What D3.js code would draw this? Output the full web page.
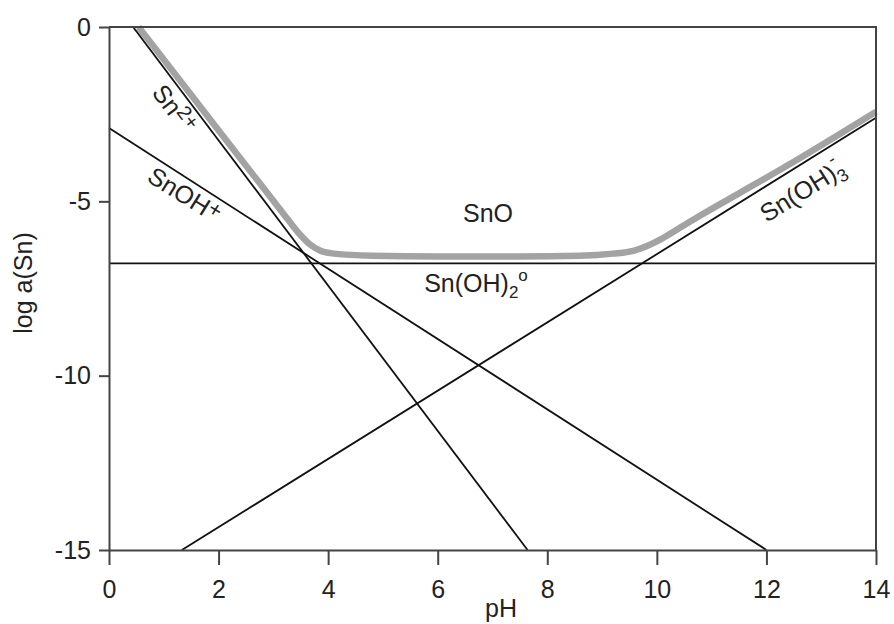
<!DOCTYPE html>
<html>
<head>
<meta charset="utf-8">
<script src="https://cdn.jsdelivr.net/npm/d3@7"></script>
<style>
  body { margin: 0; background: #fff; }
  text { font-family: "Liberation Sans", Arial, Helvetica, sans-serif; fill: #222; }
</style>
</head>
<body>
<div id="chart"></div>
<script>
// tick values
const phTicks = [0, 2, 4, 6, 8, 10, 12, 14];
const logTicks = [0, -5, -10, -15];

// species boundary lines [pH, log a]
const sn2Line = [[0.44, 0], [7.64, -15]];
const snohLine = [[0, -2.9], [12, -15]];
const snoh2Line = [[0, -6.78], [14, -6.78]];
const snoh3Line = [[1.33, -15], [14, -2.6]];

// total solubility (grey curve)
const solubility = [
  [0.54, 0], [1.6, -2.15], [2.72, -4.42], [3.0, -4.98], [3.27, -5.53],
  [3.49, -5.96], [3.67, -6.24], [3.85, -6.41], [4.1, -6.5], [4.8, -6.56],
  [6.0, -6.58], [7.5, -6.58], [8.6, -6.56], [9.2, -6.5], [9.57, -6.42],
  [9.81, -6.29], [10.06, -6.1], [10.42, -5.76], [10.8, -5.4], [11.5, -4.77],
  [12.6, -3.77], [14, -2.43]
];

const W = 894, H = 624;
const x = d3.scaleLinear().domain([0, 14]).range([109, 876]);
const y = d3.scaleLinear().domain([-15, 0]).range([550, 27]);

const svg = d3.select('#chart').append('svg')
    .attr('width', W)
    .attr('height', H);

svg.append('rect').attr('width', W).attr('height', H).attr('fill', '#fff');

const line = d3.line().x(d => x(d[0])).y(d => y(d[1]));

// grey solubility curve under the black lines
svg.append('path')
    .datum(solubility)
    .attr('d', line.curve(d3.curveMonotoneX))
    .attr('fill', 'none')
    .attr('stroke', '#a3a3a3')
    .attr('stroke-width', 6.5)
    .attr('stroke-linejoin', 'round');

const straight = d3.line().x(d => x(d[0])).y(d => y(d[1]));
[sn2Line, snohLine, snoh2Line, snoh3Line].forEach(function(pts){
  svg.append('path')
      .datum(pts)
      .attr('d', straight)
      .attr('fill', 'none')
      .attr('stroke', '#111')
      .attr('stroke-width', 1.8);
});

// frame (top + right)
svg.append('path')
    .attr('d', `M${x(0)},${y(0)}H${x(14)}V${y(-15)}`)
    .attr('fill', 'none')
    .attr('stroke', '#444')
    .attr('stroke-width', 2);

// axes
const xAxis = svg.append('g')
    .attr('transform', `translate(0,${y(-15)})`)
    .call(d3.axisBottom(x).tickValues(phTicks).tickSize(15).tickSizeOuter(0).tickPadding(15));
const yAxis = svg.append('g')
    .attr('transform', `translate(${x(0)},0)`)
    .call(d3.axisLeft(y).tickValues(logTicks).tickSize(10).tickSizeOuter(0).tickPadding(8)
      .tickFormat(d => d === 0 ? '0' : String(d)));

[xAxis, yAxis].forEach(function(a){
  a.select('.domain').attr('stroke', '#444').attr('stroke-width', 2);
  a.selectAll('.tick line').attr('stroke', '#444').attr('stroke-width', 2);
  a.selectAll('.tick text')
      .attr('font-size', 25)
      .attr('font-family', '"Liberation Sans", Arial, sans-serif')
      .attr('fill', '#222');
});

// axis titles
svg.append('text')
    .attr('x', 501).attr('y', 617)
    .attr('text-anchor', 'middle')
    .attr('font-size', 25)
    .text('pH');

svg.append('text')
    .attr('transform', 'translate(32,283) rotate(-90)')
    .attr('text-anchor', 'middle')
    .attr('font-size', 25)
    .text('log a(Sn)');

// species labels
const sn2 = svg.append('text')
    .attr('transform', 'translate(167,114) rotate(53)')
    .attr('text-anchor', 'middle')
    .attr('font-size', 25);
sn2.append('tspan').text('Sn');
sn2.append('tspan').attr('font-size', 20).attr('dy', -8).text('2+');

const snoh = svg.append('text')
    .attr('transform', 'translate(180,202) rotate(32)')
    .attr('text-anchor', 'middle')
    .attr('font-size', 25);
snoh.append('tspan').text('SnOH');
snoh.append('tspan').attr('font-size', 22).attr('dy', -5).text('+');

svg.append('text')
    .attr('x', 488).attr('y', 222)
    .attr('text-anchor', 'middle')
    .attr('font-size', 25)
    .text('SnO');

const snoh2 = svg.append('text')
    .attr('x', 476).attr('y', 292)
    .attr('text-anchor', 'middle')
    .attr('font-size', 25);
snoh2.append('tspan').text('Sn(OH)');
snoh2.append('tspan').attr('font-size', 17).attr('dy', 6).text('2');
snoh2.append('tspan').attr('font-size', 17).attr('dy', -17).text('o');

const snoh3 = svg.append('text')
    .attr('transform', 'translate(807,198) rotate(-32)')
    .attr('text-anchor', 'middle')
    .attr('font-size', 25);
snoh3.append('tspan').text('Sn(OH)');
snoh3.append('tspan').attr('font-size', 18).attr('dy', 6).text('3');
snoh3.append('tspan').attr('font-size', 18).attr('dx', -9).attr('dy', -20).text('-');
</script>
</body>
</html>
